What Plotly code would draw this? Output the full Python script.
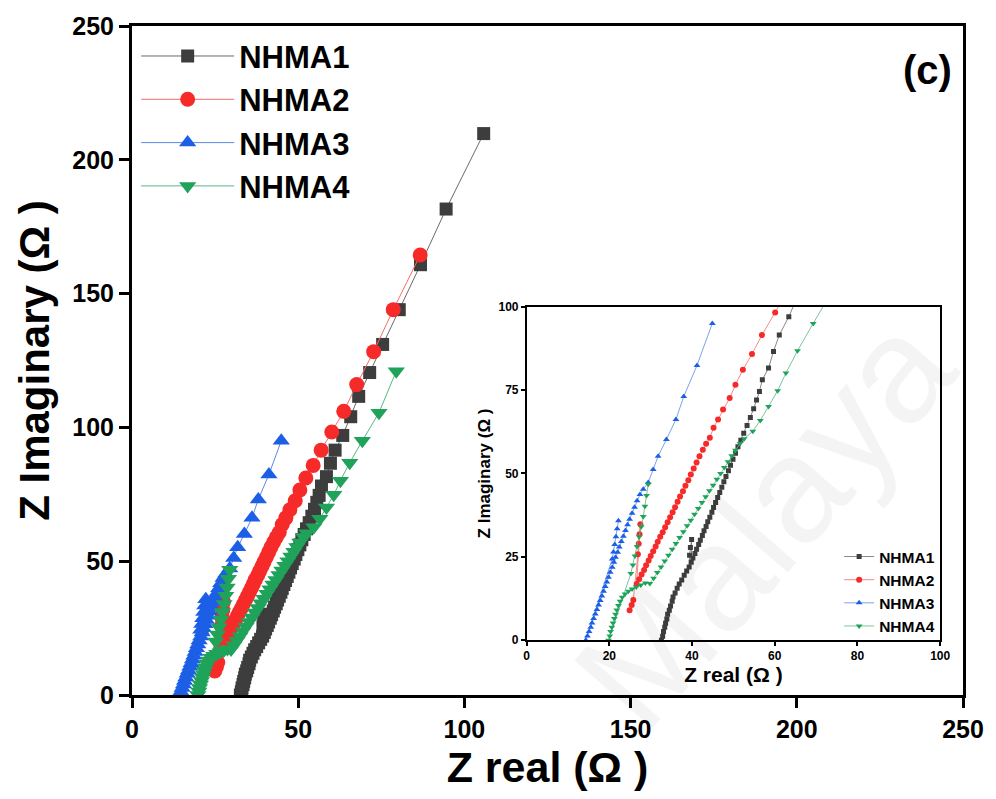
import plotly.graph_objects as go

# Nyquist data (Z real, Z imaginary) in ohms for the four electrolytes
series_names = ["NHMA1", "NHMA2", "NHMA3", "NHMA4"]

nhma1_zre = [32.6, 32.9, 33.1, 33.4, 33.6, 33.9, 34.1, 34.5, 34.8, 35.2, 35.4, 35.9, 36.4, 36.9,
             37.5, 38.1, 38.7, 39.3, 39.4, 39.6, 39.9, 39.8, 40.2, 40.7, 41.1, 41.6, 42.0, 42.5,
             42.9, 43.4, 43.8, 44.3, 44.8, 45.2, 45.7, 46.2, 46.7, 47.2, 47.7, 48.2, 48.8, 49.3,
             49.9, 50.5, 51.1, 51.8, 52.5, 53.3, 54.1, 54.9, 55.6, 56.3, 57.0, 58.5, 59.7, 61.1,
             63.4, 65.8, 68.2, 71.5, 75.4, 80.4, 86.8, 94.5, 105.8]
nhma1_zim = [0.0, 1.2, 2.6, 3.9, 5.1, 6.4, 7.8, 9.0, 10.3, 11.7, 13.0, 14.2, 15.6, 16.9,
             18.1, 19.5, 20.8, 22.0, 25.5, 27.8, 30.2, 23.4, 24.7, 26.0, 27.3, 28.7, 30.0, 31.4,
             32.8, 34.1, 35.5, 36.9, 38.4, 39.8, 41.3, 42.8, 44.3, 45.9, 47.5, 49.1, 50.8, 52.5,
             54.3, 56.1, 58.0, 60.0, 62.1, 64.4, 66.8, 69.4, 72.0, 74.6, 78.1, 81.6, 86.6, 91.5,
             97.0, 104.0, 111.6, 120.5, 131.0, 144.0, 160.8, 181.6, 209.8]

nhma2_zre = [24.9, 25.4, 25.8, 26.9, 27.1, 27.3, 27.5, 26.6, 27.2, 27.8, 28.4, 28.9, 29.5, 30.0,
             30.6, 31.2, 31.7, 32.3, 32.9, 33.5, 34.1, 34.7, 35.3, 35.9, 36.5, 37.1, 37.8, 38.4,
             39.1, 39.7, 40.4, 41.1, 41.8, 42.6, 43.4, 44.3, 45.2, 46.3, 47.5, 49.1, 50.5, 52.3,
             54.5, 56.9, 60.1, 63.7, 67.6, 72.7, 78.6, 86.7]
nhma2_zim = [9.0, 10.6, 12.1, 25.8, 28.9, 31.8, 34.8, 16.9, 18.3, 19.7, 21.1, 22.5, 23.9, 25.3,
             26.7, 28.1, 29.5, 31.0, 32.4, 33.9, 35.4, 36.9, 38.4, 39.9, 41.5, 43.1, 44.7, 46.3,
             48.0, 49.7, 51.5, 53.3, 55.2, 57.1, 58.9, 60.7, 63.7, 66.2, 69.2, 72.6, 76.6, 81.1,
             85.8, 91.5, 98.3, 106.0, 116.0, 128.3, 144.0, 164.4]

nhma3_zre = [22.2, 21.9, 21.6, 21.3, 21.0, 20.7, 14.3, 14.7, 15.1, 15.5, 15.8, 16.2, 16.6, 17.0,
             17.4, 17.8, 18.2, 18.6, 19.0, 19.4, 19.8, 20.2, 20.7, 21.1, 21.5, 22.0, 22.4, 22.9,
             23.4, 23.9, 24.4, 24.9, 25.5, 26.1, 26.7, 27.4, 28.2, 29.4, 30.6, 31.8, 33.8, 36.1,
             38.0, 41.2, 44.9]
nhma3_zim = [35.8, 33.4, 31.0, 28.7, 26.5, 24.4, 0.0, 1.3, 2.6, 3.9, 5.2, 6.5, 7.9, 9.2,
             10.6, 11.9, 13.3, 14.7, 16.1, 17.5, 18.9, 20.4, 21.9, 23.4, 24.9, 26.4, 28.0, 29.6,
             31.2, 32.9, 34.6, 36.3, 38.1, 39.9, 41.8, 43.7, 45.3, 47.3, 51.2, 55.2, 60.2, 66.2,
             73.1, 82.4, 95.0]

nhma4_zre = [29.4, 29.0, 28.6, 28.2, 27.7, 27.2, 26.7, 26.2, 25.7, 25.2, 19.8, 20.1, 20.3, 20.6,
             20.9, 21.2, 21.5, 21.8, 22.2, 22.6, 23.1, 23.8, 24.6, 25.5, 26.5, 27.6, 28.7, 29.8,
             30.7, 31.6, 32.5, 33.4, 34.3, 35.2, 36.1, 37.0, 37.9, 38.8, 39.7, 40.6, 41.5, 42.4,
             43.3, 44.2, 45.1, 46.0, 46.9, 47.8, 48.7, 49.6, 50.5, 51.6, 52.6, 54.7, 56.5, 58.5,
             60.7, 62.7, 65.5, 69.3, 74.3, 79.5]
nhma4_zim = [46.8, 43.4, 40.2, 37.1, 34.0, 31.0, 28.1, 25.3, 22.6, 20.0, 0.0, 1.3, 2.6, 3.9,
             5.2, 6.5, 7.8, 9.1, 10.4, 11.7, 12.9, 13.9, 14.7, 15.4, 16.0, 16.6, 17.2, 17.0,
             18.6, 20.3, 22.0, 23.8, 25.5, 27.3, 29.0, 30.8, 32.5, 34.3, 36.0, 37.8, 39.5, 41.3,
             43.0, 44.8, 46.5, 48.3, 50.0, 51.8, 53.5, 55.3, 57.0, 59.0, 60.4, 62.7, 65.9, 70.1,
             74.8, 80.1, 86.8, 95.0, 105.5, 121.0]

main_ticks = [0, 50, 100, 150, 200, 250]
inset_xticks = [0, 20, 40, 60, 80, 100]
inset_yticks = [0, 25, 50, 75, 100]

colors = ["#3d3d3d", "#f72a2a", "#1c5fe6", "#1fa35a"]
line_colors = ["#6a6a6a", "#f76a6a", "#5a8ae6", "#5ab585"]
symbols = ["square", "circle", "triangle-up", "triangle-down"]
main_sizes = [13, 15, 15, 15]
inset_sizes = [5, 6, 6, 6]

xs = [nhma1_zre, nhma2_zre, nhma3_zre, nhma4_zre]
ys = [nhma1_zim, nhma2_zim, nhma3_zim, nhma4_zim]

FONT = "Liberation Sans"

fig = go.Figure()

for name, x, y, c, lc, sym, s in zip(series_names, xs, ys, colors, line_colors, symbols, main_sizes):
    fig.add_trace(go.Scatter(
        x=x, y=y, name=name, mode="lines+markers",
        line=dict(color=lc, width=1),
        marker=dict(symbol=sym, size=s, color=c, line=dict(width=0)),
        xaxis="x", yaxis="y", legend="legend",
    ))

for name, x, y, c, lc, sym, s in zip(series_names, xs, ys, colors, line_colors, symbols, inset_sizes):
    fig.add_trace(go.Scatter(
        x=x, y=y, name=name, mode="lines+markers",
        line=dict(color=lc, width=0.8),
        marker=dict(symbol=sym, size=s, color=c, line=dict(width=0)),
        xaxis="x2", yaxis="y2", legend="legend2",
    ))

axis_common = dict(showgrid=False, zeroline=False, mirror=True, ticks="outside",
                   linecolor="black", tickcolor="black")

fig.update_layout(
    width=996, height=799,
    margin=dict(l=132, r=28, t=23, b=104),
    paper_bgcolor="white", plot_bgcolor="white",
    font=dict(family=FONT, color="black"),
    xaxis=dict(**axis_common, range=[0, 250], tickvals=main_ticks, linewidth=3,
               ticklen=10, tickwidth=3,
               tickfont=dict(size=25, family=FONT, weight="bold"),
               title=dict(text="Z real (Ω )", font=dict(size=43, family=FONT, weight="bold"),
                          standoff=10)),
    yaxis=dict(**axis_common, range=[0, 250], tickvals=main_ticks, linewidth=3,
               ticklen=10, tickwidth=3,
               tickfont=dict(size=25, family=FONT, weight="bold"),
               title=dict(text="Z Imaginary (Ω )", font=dict(size=42, family=FONT, weight="bold"),
                          standoff=10)),
    xaxis2=dict(**axis_common, domain=[0.4749, 0.9725], anchor="y2", range=[0, 100],
                tickvals=inset_xticks, linewidth=1.5, ticklen=4, tickwidth=1.5,
                tickfont=dict(size=12, family=FONT, weight="bold"),
                title=dict(text="Z real (Ω )", font=dict(size=21, family=FONT, weight="bold"),
                           standoff=2)),
    yaxis2=dict(**axis_common, domain=[0.0818, 0.5804], anchor="x2", range=[0, 100],
                tickvals=inset_yticks, linewidth=1.5, ticklen=4, tickwidth=1.5,
                tickfont=dict(size=12, family=FONT, weight="bold"),
                title=dict(text="Z Imaginary (Ω )", font=dict(size=17, family=FONT, weight="bold"),
                           standoff=4)),
    legend=dict(x=0.005, y=0.995, xanchor="left", yanchor="top", bgcolor="rgba(0,0,0,0)",
                font=dict(size=31, family=FONT, weight="bold"), itemwidth=93,
                tracegroupgap=0),
    legend2=dict(x=0.9725, y=0.0818 - 0.004, xanchor="right", yanchor="bottom",
                 bgcolor="rgba(0,0,0,0)",
                 font=dict(size=15.5, family=FONT, weight="bold"), itemwidth=30),
    showlegend=True,
    annotations=[
        dict(text="(c)", x=0.957, y=0.934, xref="paper", yref="paper", showarrow=False,
             xanchor="center", yanchor="middle",
             font=dict(size=40, family=FONT, weight="bold")),
        dict(text="Malaya", x=0.76, y=0.26, xref="paper", yref="paper", showarrow=False,
             xanchor="center", yanchor="middle", textangle=-49,
             font=dict(size=150, family=FONT, color="rgba(0,0,0,0.045)")),
    ],
)

fig.write_html("out.html")
